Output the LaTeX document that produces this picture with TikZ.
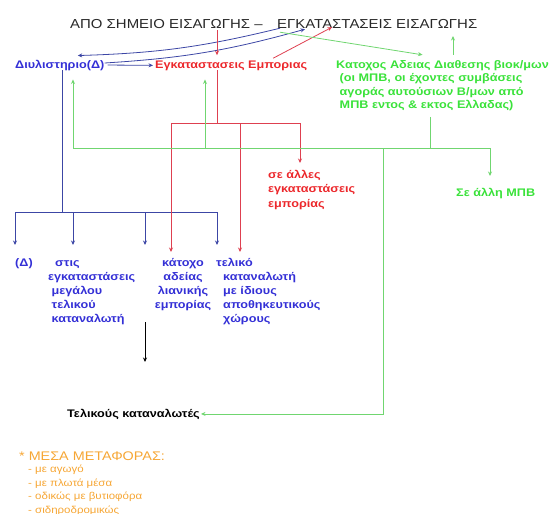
\documentclass[tikz,border=0pt]{standalone}
\usepackage{fontspec}
\setmainfont{Liberation Sans}[FakeStretch=1.15]
\usetikzlibrary{arrows.meta,positioning}
\definecolor{tblue}{RGB}{52,48,214}
\definecolor{lblue}{RGB}{60,70,165}
\definecolor{tred}{RGB}{236,40,44}
\definecolor{lred}{RGB}{222,64,80}
\definecolor{tgreen}{RGB}{58,226,58}
\definecolor{lgreen}{RGB}{112,214,112}
\definecolor{torange}{RGB}{246,166,52}
\definecolor{ttitle}{RGB}{40,40,40}

\tikzset{
    lbl/.style={inner sep=0pt, anchor=base west, font=\bfseries\fontsize{11}{14}\selectfont},
    ttl/.style={inner sep=0pt, anchor=base west, text=ttitle, font=\fontsize{13}{15}\selectfont},
    tip/.style={-{Stealth[length=4.5pt,width=4pt]}},
    blueline/.style={draw=lblue, line width=0.8pt},
    redline/.style={draw=lred, line width=0.8pt},
    greenline/.style={draw=lgreen, line width=0.8pt},
}

\begin{document}
\begin{tikzpicture}[x=1pt,y=-1pt]
    \useasboundingbox (0,0) rectangle (555,514);

    \node[ttl] (imp) at (70,28) {ΑΠΟ ΣΗΜΕΙΟ ΕΙΣΑΓΩΓΗΣ –};
    \node[ttl] (inst) at (277,28) {ΕΓΚΑΤΑΣΤΑΣΕΙΣ ΕΙΣΑΓΩΓΗΣ};

    \node[lbl, text=tblue] (dyl) at (15,68) {Διυλιστηριο(Δ)};
    \node[lbl, text=tred] (emp) at (155,68) {Εγκαταστασεις Εμποριας};
    \node[lbl, text=tgreen, align=left, font=\bfseries\fontsize{11}{13.5}\selectfont] (kat) at (336,108.5)
        {Κατοχος Αδειας Διαθεσης βιοκ/μων\\\ (οι ΜΠΒ, οι έχοντες συμβάσεις\\\ αγοράς αυτούσιων Β/μων από\\\ ΜΠΒ εντος \& εκτος Ελλαδας)};

    \node[lbl, text=tred, align=left, font=\bfseries\fontsize{11}{14.5}\selectfont] (allemp) at (268,207)
        {σε άλλες\\εγκαταστάσεις\\εμπορίας};
    \node[lbl, text=tgreen] (mpb) at (456,196) {Σε άλλη ΜΠΒ};

    \node[lbl, text=tblue] (del) at (15,266) {(Δ)};
    \node[lbl, text=tblue, align=left] (megalou) at (48,322)
        {\ \ στις\\εγκαταστάσεις\\\ μεγάλου\\\ τελικού\\\ καταναλωτή};
    \node[lbl, text=tblue, align=center, anchor=base] (katoxo) at (183,308)
        {κάτοχο\\αδείας\\λιανικής\\εμπορίας};
    \node[lbl, text=tblue, align=left] (teliko) at (216,322)
        {τελικό\\\ \ καταναλωτή\\\ \ με ίδιους\\\ \ αποθηκευτικούς\\\ \ χώρους};

    \node[lbl, text=black] (tel) at (67,417) {Τελικούς καταναλωτές};

    \node[inner sep=0pt, anchor=base west, text=torange, font=\fontsize{12.5}{14}\selectfont] (mesa) at (19,460)
        {* ΜΕΣΑ ΜΕΤΑΦΟΡΑΣ:};
    \node[inner sep=0pt, anchor=base west, text=torange, align=left, font=\fontsize{10}{13.5}\selectfont] (media) at (28,513)
        {- με αγωγό\\- με πλωτά μέσα\\- οδικώς με βυτιοφόρα\\- σιδηροδρομικώς};

    \coordinate (bbar) at (62,212);
    \coordinate (bb1) at (15,212);
    \coordinate (bb2) at (73,212);
    \coordinate (bb3) at (145,212);
    \coordinate (bb4) at (217,212);
    \coordinate (brow) at (0,245);
    \coordinate (rtrunk) at (217,123);
    \coordinate (rl) at (171,123);
    \coordinate (rm) at (240,123);
    \coordinate (rr) at (300,123);
    \coordinate (rrow) at (0,252);
    \coordinate (rtip) at (300,163);
    \coordinate (gup) at (453,36);
    \coordinate (gk) at (430,148);
    \coordinate (gL) at (73,148);
    \coordinate (gE) at (205,148);
    \coordinate (gD) at (383,148);
    \coordinate (gR) at (490,148);
    \coordinate (gtip) at (490,176);
    \coordinate (bk) at (145,362);

    \draw[blueline, tip] ([xshift=3pt]inst.south west) to[bend left=6] ([xshift=18pt,yshift=4pt]dyl.north);
    \draw[blueline, tip] ([yshift=2pt]dyl.east) to[bend right=6] ([xshift=28pt,yshift=-1pt]inst.south west);
    \draw[blueline, tip, shorten <=3pt, shorten >=2pt] (dyl.east) -- (emp.west);
    \draw[blueline] (dyl.south -| bbar) -- (bbar);
    \draw[blueline] (bb1) -- (bb4);
    \draw[blueline, tip] (bb1) -- (bb1 |- brow);
    \draw[blueline, tip] (bb2) -- (bb2 |- brow);
    \draw[blueline, tip] (bb3) -- (bb3 |- brow);
    \draw[blueline, tip] (bb4) -- (bb4 |- brow);

    \draw[redline, tip] ([yshift=-2pt]imp.south -| rtrunk) -- ([yshift=5pt]emp.north -| rtrunk);
    \draw[redline] (emp.south -| rtrunk) -- (rtrunk);
    \draw[redline] (rl) -- (rr);
    \draw[redline, tip] (rl) -- (rl |- rrow);
    \draw[redline, tip] (rm) -- (rm |- rrow);
    \draw[redline, tip] (rr) -- (rtip);
    \draw[redline, tip] ([xshift=42pt,yshift=2pt]emp.north) -- ([xshift=55pt,yshift=1pt]inst.south west);

    \draw[greenline, tip] ([xshift=3pt,yshift=-4pt]inst.south west) -- ([xshift=-20pt,yshift=5pt]kat.north);
    \draw[greenline, tip] ([yshift=5pt]kat.north -| gup) -- (gup);
    \draw[greenline] ([yshift=-6pt]kat.south -| gk) -- (gk);
    \draw[greenline] (gL) -- (gR);
    \draw[greenline, tip, shorten >=9pt] (gL) -- (gL |- dyl.south);
    \draw[greenline, tip, shorten >=9pt] (gE) -- (gE |- emp.south);
    \draw[greenline, tip] (gR) -- (gtip);
    \draw[greenline, tip, shorten >=1pt] (gD) |- (tel.east);

    \draw[line width=0.8pt, tip] ([yshift=-12pt]katoxo.south -| bk) -- (bk);
\end{tikzpicture}
\end{document}
